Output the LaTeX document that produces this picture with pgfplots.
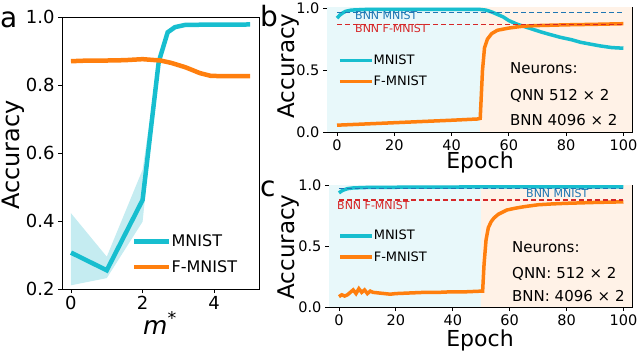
\documentclass[border=0pt]{standalone}
\usepackage{fontspec}
\setmainfont{DejaVu Sans}
\usepackage{pgfplots}
\pgfplotsset{compat=1.18}

\definecolor{mnist}{HTML}{17BECF}
\definecolor{fmnist}{HTML}{FF7F0E}
\definecolor{bnnblue}{HTML}{1F77B4}
\definecolor{bnnred}{HTML}{D62728}
\definecolor{bgcyan}{HTML}{E8F8FA}
\definecolor{bgorange}{HTML}{FFF2E7}
\definecolor{band}{HTML}{C5ECF1}

\newcommand{\fs}[1]{\fontsize{#1}{#1}\selectfont}

\pgfplotsset{
  panel/.style={
    scale only axis, anchor=south west,
    axis line style={line width=0.8pt},
    tick align=outside, tick pos=left,
    major tick length=4pt,
    every tick/.style={black, line width=0.8pt},
    /pgf/number format/assume math mode=true,
    legend cell align=left,
    legend image code/.code={\draw[##1] (0pt,0pt) -- (32pt,0pt);},
  },
  longleg/.style={legend image code/.code={\draw[##1] (0pt,0pt) -- (35pt,0pt);}},
  bnn/.style={line width=1.1pt, dash pattern=on 5pt off 3pt, forget plot},
}

\begin{document}
\begin{tikzpicture}
\path[use as bounding box] (0pt,0pt) rectangle (640pt,351pt);

% ---------------- panel a ----------------
\begin{axis}[panel, longleg,
  at={(62pt,62pt)}, width=197pt, height=272pt,
  xmin=-0.25, xmax=5.25, ymin=0.2, ymax=1.0,
  xtick={0,2,4}, ytick={0.2,0.4,0.6,0.8,1.0},
  yticklabel style={/pgf/number format/.cd, fixed, fixed zerofill, precision=1},
  tick label style={font=\fs{18}},
  legend style={draw=none, fill=none, at={(rel axis cs:0.355,0.20)}, anchor=north west,
    inner sep=0pt, row sep=12pt, font=\fs{16},
    nodes={inner sep=0pt},
    /tikz/every even column/.append style={column sep=10pt}},
]
% spread band: upper edge, then lower edge backwards
\addplot[fill=band, draw=none, forget plot] coordinates {
  (0,0.423) (1,0.295) (2,0.551) (2.45,0.878) (2.7,0.962) (3,0.978) (3.3,0.981) (5,0.981)
  (5,0.975) (3.3,0.975) (3,0.968) (2.7,0.948) (2.45,0.858) (2,0.398) (1,0.232) (0,0.211) (0,0.423)};
\addplot[mnist, line width=4.5pt] coordinates {
  (0,0.307) (1,0.255) (2,0.462) (2.45,0.868) (2.7,0.955) (2.9,0.970) (3.2,0.977) (5,0.978)};
\addplot[fmnist, line width=4.5pt] coordinates {
  (0,0.870) (0.5,0.872) (1,0.872) (1.5,0.873) (2,0.876) (2.5,0.872) (2.8,0.865)
  (3.2,0.852) (3.6,0.835) (3.9,0.827) (4.2,0.826) (5,0.826)};
\legend{MNIST, F-MNIST}
\end{axis}

% ---------------- panel b ----------------
\begin{axis}[panel,
  at={(327pt,219pt)}, width=305pt, height=125pt,
  xmin=-3.5, xmax=103, ymin=0, ymax=1.01,
  xtick={0,20,40,60,80,100}, ytick={0,0.5,1.0},
  yticklabel style={/pgf/number format/.cd, fixed, fixed zerofill, precision=1},
  tick label style={font=\fs{14.5}},
  legend style={draw=none, fill=none, at={(rel axis cs:0.036,0.62)}, anchor=north west,
    inner sep=0pt, row sep=10pt, font=\fs{13},
    nodes={inner sep=0pt},
    /tikz/every even column/.append style={column sep=10pt}},
]
\fill[bgcyan] (axis cs:-3.5,0) rectangle (axis cs:50,1.01);
\fill[bgorange] (axis cs:50,0) rectangle (axis cs:103,1.01);
\addplot[mnist, line width=3.5pt] coordinates {
  (0,0.92) (1,0.945) (2,0.962) (3,0.975) (5,0.985) (10,0.99) (30,0.99) (50,0.99)
  (52,0.985) (54,0.97) (56,0.95) (58,0.93) (60,0.90) (63,0.87) (67,0.84) (71,0.81)
  (74,0.79) (78,0.765) (82,0.745) (85,0.725) (88,0.712) (92,0.695) (96,0.682) (100,0.677)};
\addplot[fmnist, line width=3.5pt] coordinates {
  (0,0.055) (10,0.065) (20,0.075) (30,0.085) (40,0.095) (49,0.105) (50,0.11)
  (50.8,0.5) (51.5,0.68) (52.5,0.75) (54,0.795) (56,0.822) (60,0.84) (65,0.855)
  (70,0.86) (80,0.866) (90,0.87) (100,0.875)};
\addplot[bnnblue, bnn] coordinates {(0,0.962) (100,0.962)};
\addplot[bnnred, bnn] coordinates {(0,0.870) (100,0.870)};
\legend{MNIST, F-MNIST}
\end{axis}

% ---------------- panel c ----------------
\begin{axis}[panel,
  at={(329pt,44pt)}, width=303pt, height=122pt,
  xmin=-3.5, xmax=103, ymin=0, ymax=1.0,
  xtick={0,20,40,60,80,100}, ytick={0,0.5,1.0},
  yticklabel style={/pgf/number format/.cd, fixed, fixed zerofill, precision=1},
  tick label style={font=\fs{14.5}},
  legend style={draw=none, fill=none, at={(rel axis cs:0.03,0.63)}, anchor=north west,
    inner sep=0pt, row sep=10pt, font=\fs{13},
    nodes={inner sep=0pt},
    /tikz/every even column/.append style={column sep=10pt}},
]
\fill[bgcyan] (axis cs:-3.5,0) rectangle (axis cs:50,1.0);
\fill[bgorange] (axis cs:50,0) rectangle (axis cs:103,1.0);
\addplot[mnist, line width=3.5pt] coordinates {
  (0,0.935) (1,0.952) (2,0.962) (3,0.970) (5,0.976) (10,0.980) (30,0.983) (50,0.984) (100,0.985)};
\addplot[fmnist, line width=3.5pt] coordinates {
  (0,0.085) (1,0.10) (2,0.09) (3,0.10) (4,0.12) (5,0.14) (6,0.11) (7,0.15) (8,0.12)
  (9,0.14) (10,0.11) (11,0.13) (12,0.12) (14,0.115) (16,0.11) (18,0.105) (20,0.11)
  (25,0.115) (30,0.12) (35,0.12) (40,0.125) (45,0.125) (50,0.13) (50.5,0.13)
  (51,0.35) (51.7,0.55) (52.5,0.65) (53.5,0.70) (54.5,0.73) (56,0.76) (59,0.795)
  (62,0.81) (65,0.822) (70,0.838) (75,0.845) (80,0.85) (90,0.857) (100,0.862)};
\addplot[bnnblue, bnn] coordinates {(0,0.975) (100,0.975)};
\addplot[bnnred, bnn] coordinates {(0,0.877) (100,0.877)};
\legend{MNIST, F-MNIST}
\end{axis}

% ---------------- labels ----------------
\node[anchor=base west, inner sep=0pt, font=\fs{28}] at (0pt,323pt) {a};
\node[anchor=base west, inner sep=0pt, font=\fs{28}] at (260pt,324pt) {b};
\node[anchor=base west, inner sep=0pt, font=\fs{28}] at (260pt,154pt) {c};

\node[anchor=base, rotate=90, inner sep=0pt, font=\fs{24}] at (19pt,196pt) {Accuracy};
\node[anchor=base, inner sep=0pt, font=\fs{25}] at (160pt,17pt) {\textit{m}\textsuperscript{*}};

\node[anchor=base, rotate=90, inner sep=0pt, font=\fs{23}] at (294pt,285pt) {Accuracy};
\node[anchor=base, inner sep=0pt, font=\fs{22}] at (480pt,182pt) {Epoch};
\node[anchor=base, rotate=90, inner sep=0pt, font=\fs{23}] at (294pt,104pt) {Accuracy};
\node[anchor=base, inner sep=0pt, font=\fs{22}] at (480pt,5pt) {Epoch};

\node[anchor=base west, inner sep=0pt, font=\fs{11}, text=bnnblue] at (355pt,331pt) {BNN MNIST};
\node[anchor=base west, inner sep=0pt, font=\fs{11}, text=bnnred] at (355pt,318pt) {BNN F-MNIST};
\node[anchor=base west, inner sep=0pt, font=\fs{11}, text=bnnblue] at (526pt,153pt) {BNN MNIST};
\node[anchor=base west, inner sep=0pt, font=\fs{11}, text=bnnred] at (337pt,141pt) {BNN F-MNIST};

\node[anchor=base west, inner sep=0pt, font=\fs{15}] at (510pt,277pt) {Neurons:};
\node[anchor=base west, inner sep=0pt, font=\fs{15}] at (510pt,250pt) {QNN 512 × 2};
\node[anchor=base west, inner sep=0pt, font=\fs{15}] at (510pt,225pt) {BNN 4096 × 2};
\node[anchor=base west, inner sep=0pt, font=\fs{15}] at (512pt,98pt) {Neurons:};
\node[anchor=base west, inner sep=0pt, font=\fs{15}] at (512pt,73pt) {QNN: 512 × 2};
\node[anchor=base west, inner sep=0pt, font=\fs{15}] at (512pt,50pt) {BNN: 4096 × 2};
\end{tikzpicture}
\end{document}
